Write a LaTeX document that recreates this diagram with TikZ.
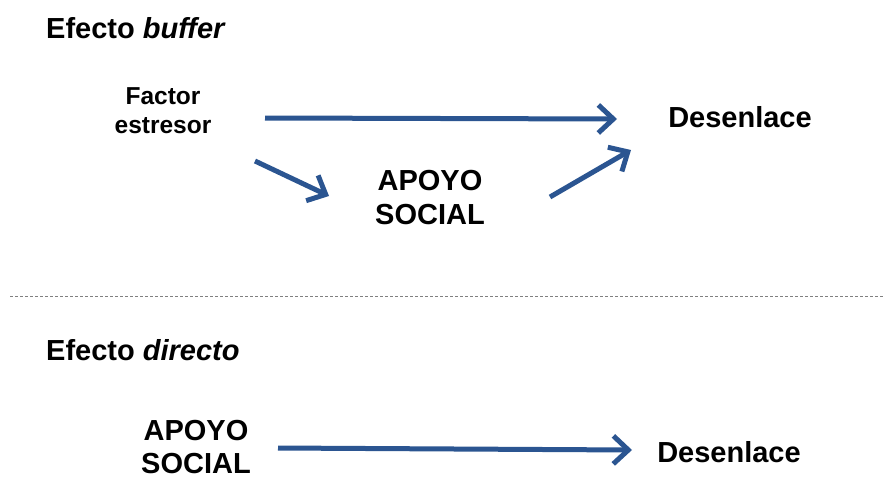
\documentclass[tikz,border=0pt]{standalone}
\usepackage{fontspec}
\setmainfont{Liberation Sans}
\usetikzlibrary{arrows.meta}
\definecolor{arrowblue}{HTML}{2B5591}
\tikzset{
  conn/.style={draw=arrowblue, line width=5pt, -{Straight Barb[length=15pt,width=28pt,line width=5pt]}},
  big/.style={font=\fontsize{29}{34}\selectfont\bfseries, align=center, inner sep=0pt},
  bigtight/.style={font=\fontsize{29}{33}\selectfont\bfseries, align=center, inner sep=0pt},
  small/.style={font=\fontsize{24.5}{29}\selectfont\bfseries, align=center, inner sep=0pt},
  title/.style={font=\fontsize{29}{34}\selectfont\bfseries, anchor=west, inner sep=0pt}
}
\begin{document}
\begin{tikzpicture}[x=1pt,y=-1pt]
\useasboundingbox (0,0) rectangle (883,479);
\node[title] (t1) at (46,28) {Efecto \textit{buffer}};
\node[small] (fe) at (163,111) {Factor\\estresor};
\node[big] (d1) at (740,117) {Desenlace};
\node[big] (as1) at (430,198) {APOYO\\SOCIAL};
\coordinate (a1s) at (265,118);
\coordinate (a1e) at (617,119);
\coordinate (a2s) at (255,161);
\coordinate (a2e) at (329,196);
\coordinate (a3s) at (550,197);
\coordinate (a3e) at (631,150);
\draw[conn] (a1s) -- (a1e);
\draw[conn] (a2s) -- (a2e);
\draw[conn] (a3s) -- (a3e);
\coordinate (dl) at (10,296);
\coordinate (dr) at (883,296);
\draw[gray, line width=1pt, dash pattern=on 3pt off 2pt] (dl) -- (dr);
\node[title] (t2) at (46,350) {Efecto \textit{directo}};
\node[bigtight] (as2) at (196,447) {APOYO\\SOCIAL};
\node[big] (d2) at (729,452) {Desenlace};
\coordinate (b1s) at (278,448);
\coordinate (b1e) at (632,450);
\draw[conn] (b1s) -- (b1e);
\end{tikzpicture}
\end{document}
